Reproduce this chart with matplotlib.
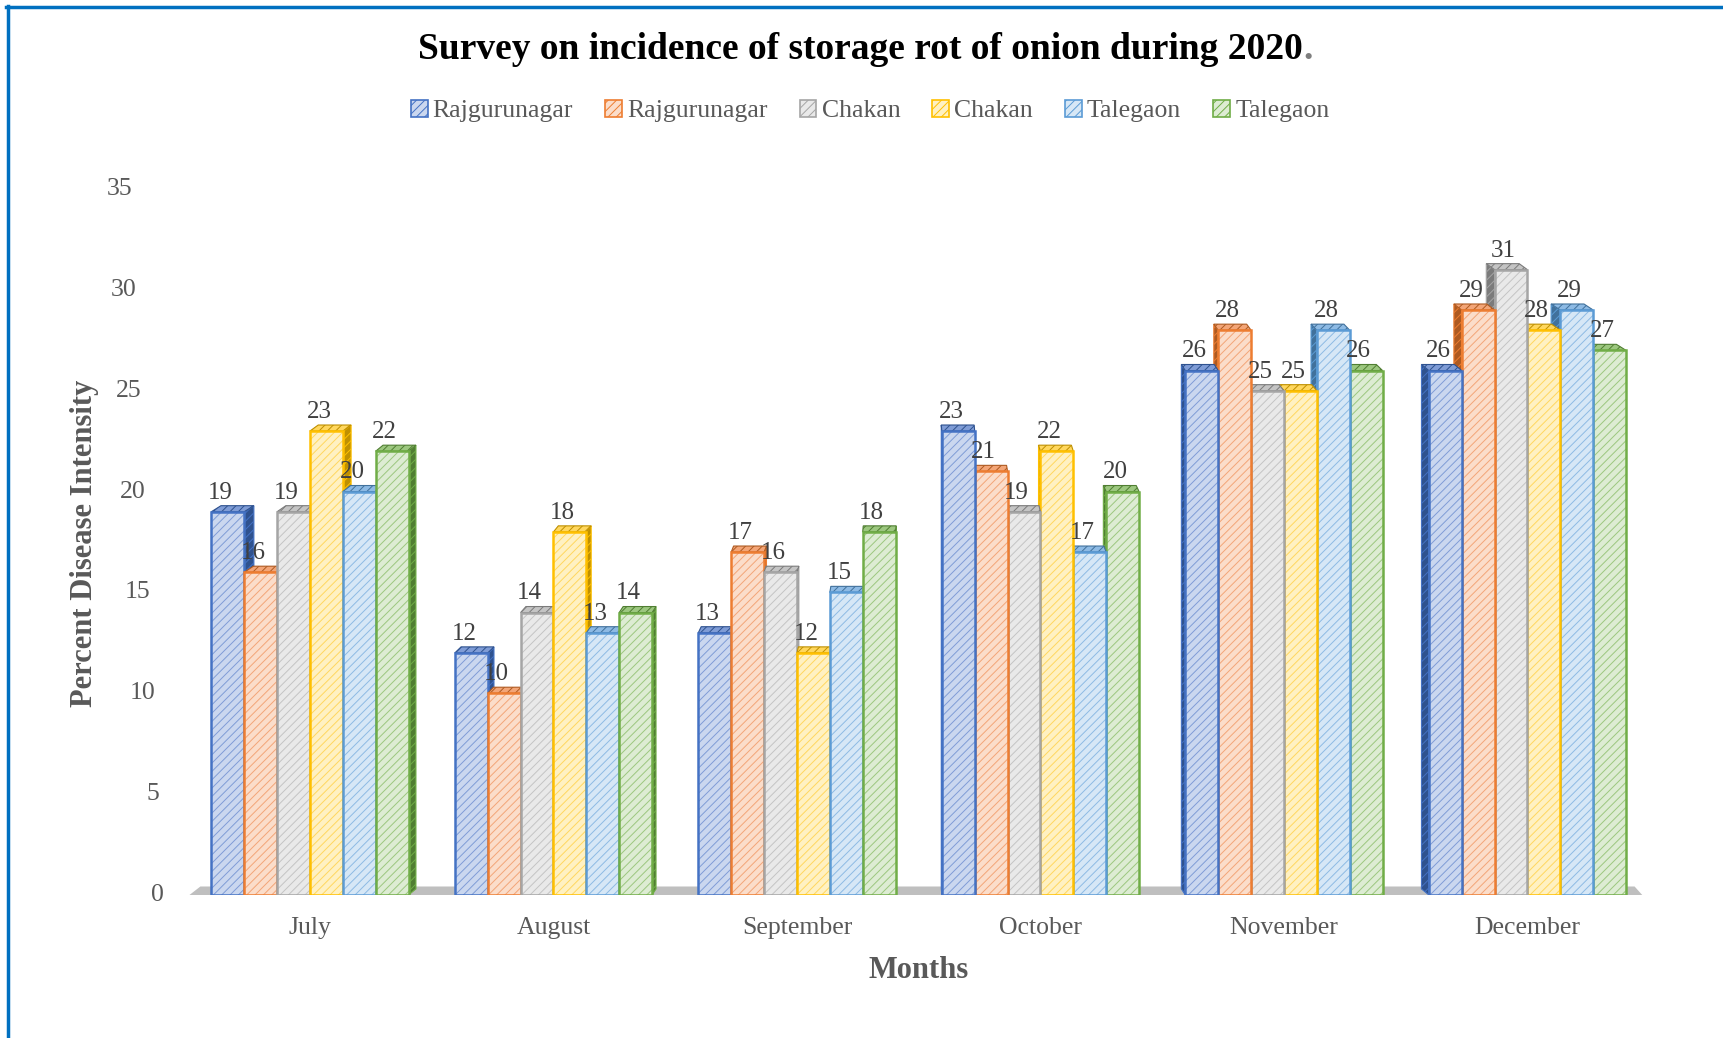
import matplotlib
matplotlib.use("Agg")
import matplotlib.pyplot as plt
from matplotlib.patches import Polygon, Patch
from matplotlib.lines import Line2D
import matplotlib.transforms as mtransforms
import numpy as np

months = ["July", "August", "September", "October", "November", "December"]
series_names = ["Rajgurunagar", "Rajgurunagar", "Chakan", "Chakan", "Talegaon", "Talegaon"]
rajgurunagar_a = [19, 12, 13, 23, 26, 26]
rajgurunagar_b = [16, 10, 17, 21, 28, 29]
chakan_a = [19, 14, 16, 19, 25, 31]
chakan_b = [23, 18, 12, 22, 25, 28]
talegaon_a = [20, 13, 15, 17, 28, 29]
talegaon_b = [22, 14, 18, 20, 26, 27]
y_ticks = [0, 5, 10, 15, 20, 25, 30, 35]

series = [rajgurunagar_a, rajgurunagar_b, chakan_a, chakan_b, talegaon_a, talegaon_b]

# edge, hatch, face, side colours
edge_cols = ["#4472C4", "#ED7D31", "#A5A5A5", "#FFC000", "#5B9BD5", "#70AD47"]
hatch_cols = ["#7F9CD6", "#F3A577", "#C4C4C4", "#FFD75E", "#8DBAE4", "#9CC77F"]
face_cols = ["#CAD7EF", "#FBDDCA", "#E9E9E9", "#FFF1C2", "#D6E7F6", "#DDECD3"]
side_cols = ["#2F528F", "#AE5A21", "#7B7B7B", "#BF9000", "#41719C", "#507E32"]

serif = ["Liberation Serif", "DejaVu Serif"]
txt_gray = "#595959"

plt.rcParams["hatch.linewidth"] = 0.7
plt.rcParams["font.family"] = serif

fig = plt.figure(figsize=(17.23, 10.38), dpi=100)
ax = fig.add_axes([188.2 / 1723, 0.1378, 1461 / 1723, 0.6801])
ax.set_xlim(-0.5, 5.5)
ax.set_ylim(0, 35)
for s in ax.spines.values():
    s.set_visible(False)

x = np.arange(len(months))
w = 0.135
dy = 0.3

# floor
floor = Polygon([(-0.5, -0.05), (5.475, -0.05), (5.44, 0.42), (-0.45, 0.42)],
                closed=True, facecolor="#BFBFBF", edgecolor="none", zorder=1)
ax.add_patch(floor)

for i, vals in enumerate(series):
    xs = x + (i - 2.5) * w
    for j, (xc, v) in enumerate(zip(xs, vals)):
        dx = -0.014 * (xc - 2.5)
        z = 2 + (i * 0.1 if dx > 0 else (5 - i) * 0.1)
        left, right = xc - w / 2, xc + w / 2
        # side face
        if dx > 0:
            side = [(right, 0), (right + dx, dy), (right + dx, v + dy), (right, v)]
        else:
            side = [(left, 0), (left + dx, dy), (left + dx, v + dy), (left, v)]
        ax.add_patch(Polygon(side, closed=True, facecolor=side_cols[i], edgecolor=edge_cols[i],
                             hatch="////", linewidth=0.8, zorder=z))
        top = [(left, v), (left + dx, v + dy), (right + dx, v + dy), (right, v)]
        ax.add_patch(Polygon(top, closed=True, facecolor=hatch_cols[i], edgecolor=side_cols[i],
                             hatch="////", linewidth=0.8, zorder=z + 0.01))
        ax.bar(xc, v, width=w, color=face_cols[i], edgecolor=hatch_cols[i], hatch="////",
               linewidth=0, zorder=z + 0.02)
        ax.bar(xc, v, width=w, fill=False, edgecolor=edge_cols[i], linewidth=1.8,
               zorder=z + 0.03)
        ax.text(xc - 0.03, v + dy + 0.65, str(v), ha="center", va="center",
                fontsize=18, color="#404040", zorder=10)

# y tick labels (slanted like the 3D wall)
ax.set_yticks(y_ticks)
ax.set_yticklabels([])
ax.tick_params(axis="y", length=0)
for t in y_ticks:
    off = mtransforms.ScaledTranslation(-(24 + 32 * t / 35) / 100, 0, fig.dpi_scale_trans)
    ax.text(0, t, str(t), transform=ax.get_yaxis_transform() + off, ha="right", va="center",
            fontsize=18.5, color=txt_gray)

ax.set_xticks(x)
ax.set_xticklabels(months, fontsize=18.5, color=txt_gray)
ax.tick_params(axis="x", length=0, pad=16)

ax.set_ylabel("Percent Disease Intensity", fontsize=22, fontweight="bold", color=txt_gray)
ax.yaxis.set_label_coords(-0.061, 0.4986)
ax.set_xlabel("Months", fontsize=22, fontweight="bold", color=txt_gray, labelpad=12)

title = fig.text(0.4995, 0.952, "Survey on incidence of storage rot of onion during 2020",
                 ha="center", va="center", fontsize=27, fontweight="bold", color="black")
ax.annotate(".", xy=(1, 0), xycoords=title, ha="left", va="bottom", fontsize=27,
            fontweight="bold", color="#7F7F7F", annotation_clip=False)

handles = [Patch(facecolor=face_cols[i], edgecolor=edge_cols[i], hatch="////", linewidth=1.2)
           for i in range(6)]
fig.legend(handles, series_names, loc="center", bbox_to_anchor=(0.505, 0.893), ncol=6,
           frameon=False, fontsize=18.5, handlelength=0.65, handleheight=0.65,
           handletextpad=0.2, columnspacing=1.25, labelcolor=txt_gray)

# blue frame lines on top and left
fig.add_artist(Line2D([6 / 1723, 1], [1 - 7 / 1038, 1 - 7 / 1038], color="#0070C0",
                      linewidth=2.5, transform=fig.transFigure))
fig.add_artist(Line2D([8 / 1723, 8 / 1723], [0, 1 - 6 / 1038], color="#0070C0",
                      linewidth=2.5, transform=fig.transFigure))

fig.savefig("out.png", dpi=100)
